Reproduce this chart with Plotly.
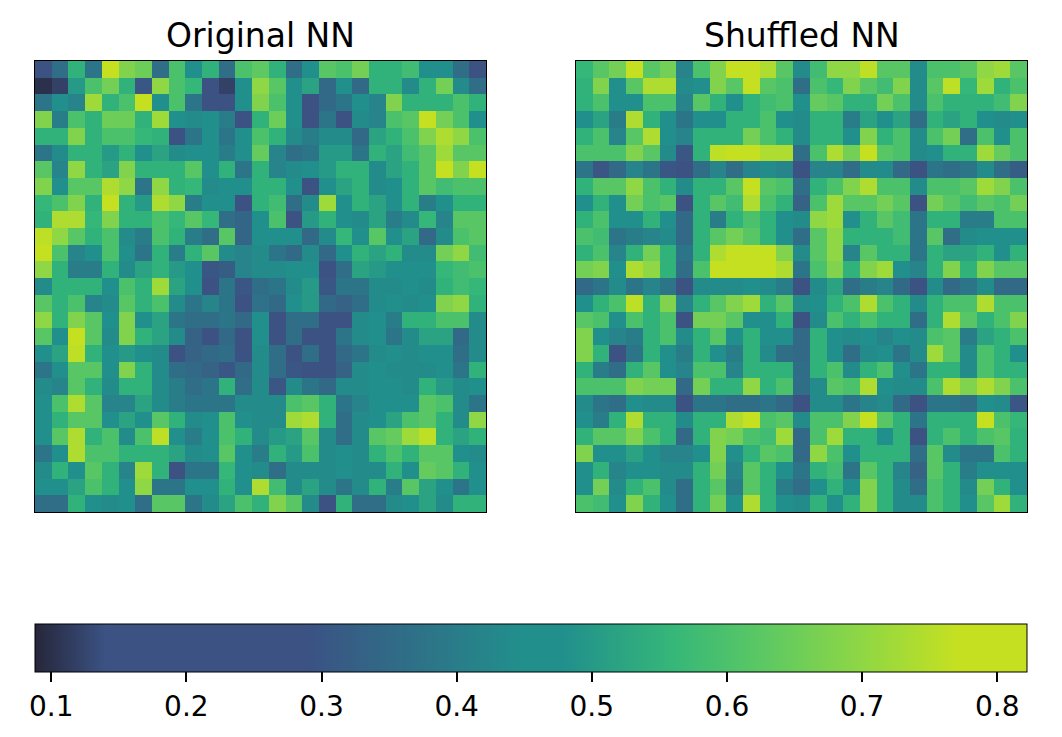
#!/usr/bin/env python3
"""
Weight map comparison: original vs shuffled network, two 27x27 heatmaps
sharing one horizontal colour bar.
"""

import plotly.graph_objs as go

# Cell values, row 0 is the top row
original_nn = [
    [0.22, 0.36, 0.55, 0.38, 0.78, 0.68, 0.65, 0.36, 0.60, 0.45, 0.55, 0.36, 0.60, 0.63, 0.55, 0.36, 0.45, 0.62, 0.60, 0.66, 0.55, 0.55, 0.58, 0.45, 0.45, 0.36, 0.15],
    [0.10, 0.12, 0.50, 0.60, 0.66, 0.55, 0.30, 0.70, 0.60, 0.56, 0.22, 0.12, 0.45, 0.70, 0.62, 0.45, 0.52, 0.35, 0.45, 0.35, 0.55, 0.55, 0.44, 0.55, 0.66, 0.44, 0.36],
    [0.38, 0.45, 0.42, 0.72, 0.55, 0.60, 0.78, 0.47, 0.60, 0.38, 0.25, 0.25, 0.45, 0.68, 0.60, 0.45, 0.22, 0.35, 0.38, 0.45, 0.42, 0.68, 0.55, 0.55, 0.55, 0.60, 0.55],
    [0.68, 0.40, 0.60, 0.55, 0.65, 0.65, 0.55, 0.72, 0.47, 0.44, 0.45, 0.40, 0.22, 0.55, 0.65, 0.45, 0.22, 0.38, 0.22, 0.44, 0.42, 0.60, 0.62, 0.78, 0.66, 0.60, 0.45],
    [0.55, 0.55, 0.68, 0.55, 0.60, 0.60, 0.56, 0.55, 0.22, 0.38, 0.45, 0.38, 0.45, 0.60, 0.55, 0.44, 0.40, 0.44, 0.44, 0.35, 0.52, 0.55, 0.60, 0.68, 0.74, 0.70, 0.60],
    [0.38, 0.44, 0.55, 0.55, 0.50, 0.55, 0.47, 0.52, 0.44, 0.48, 0.48, 0.40, 0.45, 0.64, 0.42, 0.36, 0.38, 0.50, 0.50, 0.38, 0.55, 0.52, 0.58, 0.62, 0.72, 0.62, 0.62],
    [0.62, 0.42, 0.70, 0.55, 0.52, 0.68, 0.55, 0.55, 0.55, 0.62, 0.48, 0.55, 0.38, 0.55, 0.42, 0.44, 0.46, 0.50, 0.55, 0.55, 0.44, 0.52, 0.55, 0.62, 0.80, 0.68, 0.80],
    [0.68, 0.47, 0.62, 0.62, 0.74, 0.70, 0.38, 0.70, 0.55, 0.56, 0.44, 0.48, 0.45, 0.55, 0.55, 0.45, 0.22, 0.48, 0.52, 0.55, 0.44, 0.47, 0.55, 0.62, 0.58, 0.60, 0.60],
    [0.56, 0.60, 0.68, 0.55, 0.78, 0.55, 0.50, 0.74, 0.70, 0.40, 0.48, 0.45, 0.28, 0.55, 0.58, 0.36, 0.44, 0.72, 0.46, 0.55, 0.52, 0.47, 0.55, 0.40, 0.45, 0.55, 0.55],
    [0.55, 0.74, 0.74, 0.56, 0.68, 0.55, 0.55, 0.60, 0.56, 0.62, 0.56, 0.36, 0.34, 0.45, 0.60, 0.22, 0.50, 0.55, 0.45, 0.44, 0.52, 0.40, 0.44, 0.56, 0.42, 0.62, 0.62],
    [0.76, 0.70, 0.62, 0.55, 0.60, 0.44, 0.40, 0.60, 0.55, 0.40, 0.36, 0.62, 0.34, 0.45, 0.45, 0.45, 0.35, 0.44, 0.56, 0.47, 0.62, 0.46, 0.52, 0.35, 0.44, 0.60, 0.62],
    [0.80, 0.60, 0.42, 0.46, 0.60, 0.45, 0.38, 0.55, 0.40, 0.55, 0.62, 0.44, 0.42, 0.44, 0.38, 0.35, 0.44, 0.35, 0.45, 0.55, 0.52, 0.55, 0.44, 0.44, 0.66, 0.70, 0.58],
    [0.70, 0.55, 0.40, 0.40, 0.55, 0.44, 0.52, 0.55, 0.50, 0.45, 0.30, 0.32, 0.42, 0.44, 0.44, 0.45, 0.45, 0.22, 0.36, 0.52, 0.50, 0.48, 0.46, 0.48, 0.56, 0.58, 0.60],
    [0.44, 0.55, 0.55, 0.55, 0.45, 0.60, 0.55, 0.72, 0.52, 0.45, 0.22, 0.38, 0.30, 0.36, 0.38, 0.44, 0.50, 0.30, 0.38, 0.38, 0.44, 0.44, 0.45, 0.44, 0.55, 0.58, 0.56],
    [0.62, 0.55, 0.60, 0.42, 0.44, 0.62, 0.55, 0.60, 0.44, 0.38, 0.42, 0.38, 0.22, 0.37, 0.35, 0.46, 0.50, 0.35, 0.33, 0.36, 0.44, 0.45, 0.44, 0.45, 0.68, 0.70, 0.55],
    [0.70, 0.55, 0.68, 0.62, 0.45, 0.68, 0.45, 0.52, 0.38, 0.36, 0.36, 0.38, 0.35, 0.45, 0.22, 0.36, 0.36, 0.22, 0.22, 0.44, 0.45, 0.40, 0.55, 0.55, 0.60, 0.60, 0.44],
    [0.62, 0.45, 0.78, 0.62, 0.44, 0.68, 0.55, 0.52, 0.44, 0.33, 0.25, 0.35, 0.22, 0.45, 0.22, 0.36, 0.22, 0.22, 0.38, 0.44, 0.46, 0.38, 0.44, 0.52, 0.52, 0.35, 0.44],
    [0.46, 0.52, 0.76, 0.55, 0.45, 0.50, 0.48, 0.44, 0.25, 0.33, 0.35, 0.36, 0.22, 0.44, 0.36, 0.22, 0.36, 0.18, 0.35, 0.38, 0.44, 0.45, 0.44, 0.48, 0.45, 0.36, 0.44],
    [0.38, 0.45, 0.62, 0.62, 0.45, 0.68, 0.55, 0.44, 0.36, 0.35, 0.33, 0.30, 0.35, 0.44, 0.36, 0.30, 0.22, 0.22, 0.33, 0.44, 0.45, 0.44, 0.44, 0.44, 0.45, 0.38, 0.55],
    [0.44, 0.42, 0.62, 0.55, 0.44, 0.55, 0.55, 0.44, 0.40, 0.36, 0.38, 0.55, 0.36, 0.44, 0.30, 0.44, 0.38, 0.35, 0.44, 0.44, 0.45, 0.46, 0.44, 0.55, 0.50, 0.44, 0.45],
    [0.46, 0.60, 0.74, 0.62, 0.42, 0.42, 0.52, 0.44, 0.40, 0.38, 0.38, 0.38, 0.44, 0.44, 0.44, 0.60, 0.62, 0.55, 0.38, 0.42, 0.48, 0.48, 0.45, 0.62, 0.60, 0.44, 0.38],
    [0.45, 0.55, 0.62, 0.62, 0.45, 0.52, 0.46, 0.62, 0.55, 0.44, 0.45, 0.60, 0.45, 0.44, 0.44, 0.72, 0.74, 0.55, 0.36, 0.44, 0.46, 0.52, 0.60, 0.62, 0.55, 0.44, 0.70],
    [0.45, 0.62, 0.74, 0.55, 0.60, 0.44, 0.60, 0.76, 0.45, 0.40, 0.46, 0.60, 0.55, 0.44, 0.50, 0.52, 0.62, 0.44, 0.36, 0.44, 0.62, 0.64, 0.72, 0.76, 0.55, 0.52, 0.55],
    [0.38, 0.45, 0.74, 0.60, 0.60, 0.55, 0.55, 0.55, 0.52, 0.44, 0.46, 0.62, 0.45, 0.40, 0.55, 0.50, 0.60, 0.44, 0.45, 0.44, 0.55, 0.60, 0.55, 0.62, 0.62, 0.46, 0.44],
    [0.44, 0.55, 0.46, 0.62, 0.55, 0.42, 0.72, 0.55, 0.25, 0.38, 0.38, 0.56, 0.45, 0.44, 0.36, 0.44, 0.44, 0.44, 0.45, 0.44, 0.44, 0.55, 0.46, 0.64, 0.62, 0.55, 0.45],
    [0.45, 0.45, 0.52, 0.60, 0.55, 0.45, 0.70, 0.38, 0.38, 0.48, 0.45, 0.55, 0.45, 0.74, 0.58, 0.44, 0.52, 0.44, 0.38, 0.44, 0.55, 0.40, 0.62, 0.52, 0.45, 0.38, 0.45],
    [0.36, 0.36, 0.55, 0.46, 0.44, 0.45, 0.36, 0.62, 0.62, 0.38, 0.44, 0.52, 0.60, 0.55, 0.68, 0.62, 0.44, 0.22, 0.55, 0.36, 0.36, 0.44, 0.45, 0.52, 0.44, 0.55, 0.55],
]

shuffled_nn = [
    [0.56, 0.62, 0.66, 0.78, 0.62, 0.66, 0.42, 0.60, 0.68, 0.78, 0.78, 0.74, 0.62, 0.44, 0.58, 0.70, 0.70, 0.76, 0.62, 0.62, 0.44, 0.60, 0.60, 0.62, 0.70, 0.72, 0.62],
    [0.55, 0.68, 0.46, 0.62, 0.74, 0.74, 0.44, 0.46, 0.68, 0.62, 0.78, 0.62, 0.60, 0.36, 0.60, 0.56, 0.68, 0.62, 0.58, 0.68, 0.44, 0.62, 0.76, 0.56, 0.72, 0.55, 0.60],
    [0.55, 0.60, 0.46, 0.45, 0.60, 0.60, 0.42, 0.62, 0.55, 0.46, 0.55, 0.58, 0.60, 0.45, 0.64, 0.62, 0.55, 0.55, 0.66, 0.60, 0.44, 0.60, 0.55, 0.55, 0.55, 0.58, 0.68],
    [0.46, 0.52, 0.40, 0.74, 0.55, 0.46, 0.38, 0.45, 0.46, 0.55, 0.55, 0.60, 0.46, 0.44, 0.55, 0.55, 0.40, 0.52, 0.46, 0.52, 0.36, 0.55, 0.52, 0.55, 0.46, 0.44, 0.45],
    [0.55, 0.60, 0.42, 0.62, 0.74, 0.46, 0.42, 0.55, 0.55, 0.55, 0.66, 0.60, 0.55, 0.44, 0.55, 0.55, 0.45, 0.68, 0.55, 0.60, 0.44, 0.60, 0.66, 0.36, 0.60, 0.46, 0.60],
    [0.60, 0.60, 0.60, 0.68, 0.62, 0.44, 0.30, 0.55, 0.76, 0.78, 0.78, 0.74, 0.74, 0.36, 0.60, 0.74, 0.66, 0.78, 0.62, 0.60, 0.44, 0.46, 0.55, 0.55, 0.72, 0.64, 0.60],
    [0.38, 0.30, 0.35, 0.42, 0.38, 0.30, 0.20, 0.36, 0.42, 0.36, 0.42, 0.44, 0.42, 0.22, 0.42, 0.42, 0.36, 0.44, 0.44, 0.35, 0.22, 0.38, 0.36, 0.38, 0.44, 0.36, 0.32],
    [0.55, 0.62, 0.62, 0.70, 0.60, 0.55, 0.44, 0.55, 0.55, 0.62, 0.78, 0.62, 0.60, 0.36, 0.55, 0.60, 0.68, 0.74, 0.60, 0.60, 0.44, 0.60, 0.60, 0.62, 0.72, 0.68, 0.60],
    [0.46, 0.55, 0.46, 0.66, 0.60, 0.62, 0.22, 0.55, 0.62, 0.58, 0.74, 0.60, 0.55, 0.33, 0.60, 0.72, 0.62, 0.62, 0.66, 0.62, 0.22, 0.66, 0.62, 0.58, 0.62, 0.60, 0.66],
    [0.55, 0.60, 0.45, 0.46, 0.55, 0.46, 0.35, 0.55, 0.40, 0.55, 0.60, 0.55, 0.46, 0.44, 0.70, 0.72, 0.46, 0.55, 0.62, 0.58, 0.38, 0.55, 0.55, 0.40, 0.40, 0.60, 0.60],
    [0.60, 0.58, 0.38, 0.40, 0.42, 0.44, 0.35, 0.55, 0.62, 0.66, 0.62, 0.55, 0.45, 0.36, 0.62, 0.70, 0.55, 0.55, 0.55, 0.58, 0.38, 0.62, 0.36, 0.44, 0.45, 0.46, 0.45],
    [0.55, 0.60, 0.42, 0.55, 0.66, 0.55, 0.38, 0.55, 0.74, 0.78, 0.78, 0.78, 0.68, 0.44, 0.62, 0.70, 0.42, 0.62, 0.55, 0.55, 0.38, 0.55, 0.52, 0.52, 0.55, 0.46, 0.55],
    [0.66, 0.68, 0.46, 0.74, 0.70, 0.55, 0.36, 0.60, 0.80, 0.80, 0.80, 0.80, 0.74, 0.38, 0.60, 0.68, 0.55, 0.68, 0.72, 0.46, 0.42, 0.55, 0.68, 0.55, 0.68, 0.62, 0.62],
    [0.35, 0.38, 0.44, 0.38, 0.42, 0.38, 0.22, 0.44, 0.44, 0.44, 0.46, 0.44, 0.40, 0.24, 0.44, 0.52, 0.36, 0.40, 0.42, 0.35, 0.28, 0.44, 0.35, 0.38, 0.44, 0.35, 0.35],
    [0.46, 0.55, 0.60, 0.76, 0.55, 0.68, 0.42, 0.55, 0.62, 0.68, 0.72, 0.55, 0.62, 0.44, 0.45, 0.55, 0.60, 0.74, 0.60, 0.55, 0.44, 0.55, 0.60, 0.60, 0.74, 0.60, 0.60],
    [0.62, 0.60, 0.46, 0.60, 0.55, 0.60, 0.22, 0.66, 0.66, 0.62, 0.45, 0.45, 0.55, 0.22, 0.44, 0.60, 0.55, 0.60, 0.55, 0.55, 0.36, 0.55, 0.74, 0.62, 0.55, 0.60, 0.68],
    [0.68, 0.45, 0.42, 0.40, 0.55, 0.60, 0.44, 0.55, 0.62, 0.46, 0.55, 0.46, 0.45, 0.35, 0.55, 0.45, 0.44, 0.45, 0.42, 0.45, 0.44, 0.60, 0.62, 0.40, 0.52, 0.55, 0.60],
    [0.68, 0.55, 0.22, 0.38, 0.55, 0.45, 0.40, 0.55, 0.46, 0.40, 0.55, 0.44, 0.36, 0.35, 0.55, 0.45, 0.36, 0.44, 0.46, 0.38, 0.44, 0.72, 0.62, 0.44, 0.60, 0.55, 0.46],
    [0.55, 0.40, 0.36, 0.55, 0.62, 0.45, 0.42, 0.60, 0.60, 0.42, 0.55, 0.55, 0.55, 0.36, 0.55, 0.60, 0.44, 0.55, 0.60, 0.45, 0.38, 0.55, 0.55, 0.44, 0.60, 0.55, 0.55],
    [0.60, 0.60, 0.60, 0.68, 0.66, 0.66, 0.35, 0.66, 0.55, 0.55, 0.70, 0.55, 0.60, 0.36, 0.44, 0.62, 0.60, 0.74, 0.46, 0.44, 0.44, 0.60, 0.74, 0.68, 0.74, 0.68, 0.60],
    [0.44, 0.38, 0.36, 0.45, 0.44, 0.44, 0.15, 0.38, 0.38, 0.36, 0.36, 0.38, 0.35, 0.25, 0.44, 0.44, 0.38, 0.42, 0.44, 0.35, 0.22, 0.38, 0.38, 0.36, 0.45, 0.44, 0.30],
    [0.46, 0.40, 0.55, 0.74, 0.55, 0.55, 0.44, 0.55, 0.55, 0.74, 0.78, 0.60, 0.62, 0.44, 0.60, 0.60, 0.68, 0.80, 0.62, 0.55, 0.38, 0.55, 0.55, 0.55, 0.80, 0.60, 0.56],
    [0.55, 0.62, 0.62, 0.68, 0.60, 0.55, 0.35, 0.55, 0.68, 0.66, 0.60, 0.58, 0.72, 0.35, 0.60, 0.72, 0.55, 0.55, 0.46, 0.55, 0.22, 0.55, 0.60, 0.55, 0.60, 0.62, 0.55],
    [0.68, 0.46, 0.45, 0.52, 0.45, 0.42, 0.42, 0.46, 0.68, 0.46, 0.55, 0.62, 0.60, 0.35, 0.70, 0.60, 0.45, 0.55, 0.55, 0.55, 0.36, 0.62, 0.44, 0.38, 0.38, 0.60, 0.55],
    [0.45, 0.55, 0.42, 0.45, 0.46, 0.44, 0.44, 0.55, 0.66, 0.42, 0.62, 0.55, 0.45, 0.38, 0.55, 0.58, 0.38, 0.62, 0.55, 0.42, 0.33, 0.62, 0.55, 0.40, 0.45, 0.46, 0.45],
    [0.45, 0.66, 0.44, 0.55, 0.60, 0.44, 0.36, 0.55, 0.62, 0.40, 0.62, 0.55, 0.40, 0.36, 0.46, 0.55, 0.45, 0.68, 0.55, 0.44, 0.36, 0.60, 0.55, 0.44, 0.66, 0.55, 0.46],
    [0.60, 0.58, 0.45, 0.68, 0.55, 0.45, 0.36, 0.55, 0.66, 0.45, 0.74, 0.55, 0.45, 0.44, 0.55, 0.45, 0.55, 0.68, 0.55, 0.44, 0.44, 0.60, 0.55, 0.46, 0.62, 0.72, 0.55],
]

panel_titles = ["Original NN", "Shuffled NN"]
cbar_ticks = [0.1, 0.2, 0.3, 0.4, 0.5, 0.6, 0.7, 0.8]
z_min, z_max = 0.088, 0.822

# The reference uses a coarse viridis-like palette, so the scale is built
# from those few colours and flattens where the picture is flat
palette_stops = [
    (0.088, "#26263a"),
    (0.14, "#3b5283"),
    (0.29, "#3b5283"),
    (0.45, "#21908c"),
    (0.48, "#21908c"),
    (0.56, "#35b779"),
    (0.63, "#5ec962"),
    (0.70, "#8fd744"),
    (0.77, "#c5e021"),
    (0.822, "#c5e021"),
]
colorscale = [[(v - z_min) / (z_max - z_min), c] for v, c in palette_stops]

FONT = "DejaVu Sans, Verdana, sans-serif"

# Pixel layout. The plot area reaches right down to the bottom of the
# figure so the colour bar and its labels stay inside it and never push
# the margins (which would squash the heatmaps)
PLOT_H = 721 - 53
PANEL_H = 451
panel_bottom = 1 - PANEL_H / PLOT_H
cbar_top = (728 - 623) / PLOT_H

fig = go.Figure()
fig.add_trace(go.Heatmap(z=original_nn, coloraxis="coloraxis", xaxis="x", yaxis="y",
                         hoverinfo="z"))
fig.add_trace(go.Heatmap(z=shuffled_nn, coloraxis="coloraxis", xaxis="x2", yaxis="y2",
                         hoverinfo="z"))

n = len(original_nn)
axis_style = dict(
    showticklabels=False, ticks="", showgrid=False, zeroline=False,
    showline=True, mirror=True, linecolor="black", linewidth=1,
)

fig.update_layout(
    width=1046,
    height=721,
    margin=dict(l=27, r=27, t=53, b=0),
    paper_bgcolor="white",
    plot_bgcolor="white",
    font=dict(family=FONT, color="black"),
    xaxis=dict(domain=[0, 451 / 992], range=[-0.5, n - 0.5], **axis_style),
    yaxis=dict(domain=[panel_bottom, 1], range=[n - 0.5, -0.5], **axis_style),
    xaxis2=dict(domain=[541 / 992, 1], range=[-0.5, n - 0.5], anchor="y2", **axis_style),
    yaxis2=dict(domain=[panel_bottom, 1], range=[n - 0.5, -0.5], anchor="x2", **axis_style),
    coloraxis=dict(
        colorscale=colorscale,
        cmin=z_min,
        cmax=z_max,
        colorbar=dict(
            orientation="h",
            x=0.5, xanchor="center",
            y=cbar_top, yanchor="top",
            lenmode="pixels", len=992,
            thickness=48,
            xpad=0, ypad=0,
            outlinewidth=1, outlinecolor="black",
            tickvals=cbar_ticks,
            ticktext=[f"{t:.1f}" for t in cbar_ticks],
            ticks="outside", ticklen=10, tickwidth=1.5, tickcolor="black",
            tickfont=dict(family=FONT, size=28, color="black"),
        ),
    ),
    showlegend=False,
)

# Panel titles above each heatmap
centers = [451 / 992 / 2, (541 / 992 + 1) / 2]
for title, cx in zip(panel_titles, centers):
    fig.add_annotation(
        text=title, x=cx, y=1, xref="paper", yref="paper",
        xanchor="center", yanchor="bottom", yshift=4, showarrow=False,
        font=dict(family=FONT, size=33, color="black"),
    )

fig.write_html("out.html")
